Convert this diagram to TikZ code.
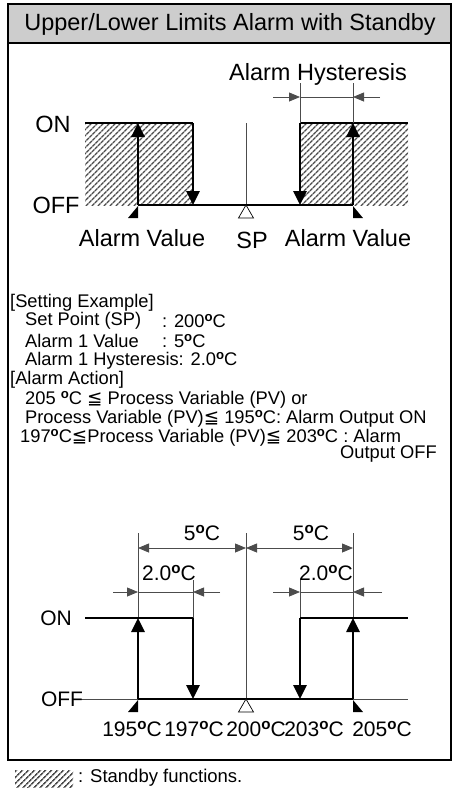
\documentclass[tikz,border=0pt]{standalone}
\usepackage{fontspec}
\setmainfont{Liberation Sans}
\newfontfamily\djv{DejaVu Sans}
\usetikzlibrary{arrows.meta,patterns.meta}
\newcommand\dg{\raisebox{.36em}{\scalebox{.72}{\bfseries o}}}
\newcommand\myleq{\smash{\djv ≦}}
\definecolor{titlegray}{RGB}{205,205,205}
\tikzset{
  hatch/.style={pattern={Lines[angle=45,distance=4pt,line width=1.6pt]},pattern color=black!70},
  bold/.style={line width=2.6pt},
  thin/.style={line width=0.8pt,black!70},
  bigtip/.style={-{Triangle[width=13pt,length=14pt]}},
  dimtip/.style={-{Triangle[width=9pt,length=11pt]}},
  dimboth/.style={{Triangle[width=9pt,length=11pt]}-{Triangle[width=9pt,length=11pt]}},
  lbl/.style={inner sep=0pt,font=\fontsize{23.5}{26}\selectfont},
  slbl/.style={inner sep=0pt,font=\fontsize{21}{24}\selectfont},
  txt/.style={inner sep=0pt,anchor=west,font=\fontsize{18.3}{21}\selectfont},
}
\begin{document}
\begin{tikzpicture}[x=1pt,y=-1pt]
\useasboundingbox (0,0) rectangle (453,801);
% frame and title
\fill[titlegray] (8,4) rectangle (451,43);
\draw[line width=1.6pt] (8,4) rectangle (451,760);
\draw[line width=1.2pt] (8,43) -- (451,43);
\node[lbl] (title) at (230,24) {Upper/Lower Limits Alarm with Standby};

% ===== upper diagram =====
\coordinate (a1) at (85,123);
\coordinate (a2) at (193,123);
\coordinate (a3) at (193,205);
\coordinate (a4) at (138,205);
\coordinate (a5) at (138,123);
\coordinate (b1) at (300,123);
\coordinate (b2) at (408,123);
\coordinate (b3) at (300,205);
\coordinate (b4) at (353,205);
\coordinate (b5) at (353,123);
\fill[hatch] (85,123) rectangle (193,205);
\fill[hatch] (300,123) rectangle (408,205);
\draw[thin] (246,123) -- (246,205);
\draw[bold] (a1) -- (a2);
\draw[bold,bigtip] (a2) -- (a3);
\draw[bold,bigtip] (a4) -- (a5);
\draw[bold] (a4) -- (b4);
\draw[bold] (b1) -- (b2);
\draw[bold,bigtip] (b1) -- (b3);
\draw[bold,bigtip] (b4) -- (b5);
% hysteresis dimension
\coordinate (h1) at (300,83);
\coordinate (h2) at (353,83);
\coordinate (h3) at (273,97);
\coordinate (h4) at (300,97);
\coordinate (h5) at (353,97);
\coordinate (h6) at (380,97);
\draw[thin] (h1) -- (b1);
\draw[thin] (h2) -- (b5);
\draw[thin,dimtip] (h3) -- (h4);
\draw[thin] (h4) -- (h5);
\draw[thin,dimtip] (h6) -- (h5);
% markers
\fill (138,206) -- (138,218) -- (128,218) -- cycle;
\fill (353,206) -- (353,218) -- (363,218) -- cycle;
\draw[line width=0.7pt,fill=white] (246,205) -- (253.5,218) -- (238.5,218) -- cycle;
% labels
\node[lbl] (on1) at (53,124) {ON};
\node[lbl] (off1) at (56,205) {OFF};
\node[lbl] (hys) at (318,74) {Alarm Hysteresis};
\node[lbl] (av1) at (142,238) {Alarm Value};
\node[lbl] (sp) at (252,240) {SP};
\node[lbl] (av2) at (348,238) {Alarm Value};

% ===== text section =====
\node[txt] (t1) at (10,303) {[Setting Example]};
\node[txt] (t2) at (25,321) {Set Point (SP)};
\node[txt] (t2v) at (162,321) {: 200\dg C};
\node[txt] (t3) at (25,341) {Alarm 1 Value};
\node[txt] (t3v) at (162,341) {: 5\dg C};
\node[txt] (t4) at (25,361) {Alarm 1 Hysteresis: 2.0\dg C};
\node[txt] (t5) at (10,380) {[Alarm Action]};
\node[txt] (t6) at (25,400) {205 \dg C \myleq{} Process Variable (PV) or};
\node[txt] (t7) at (25,419) {Process Variable (PV)\myleq{} 195\dg C: Alarm Output ON};
\node[txt] (t8) at (20,438) {197\dg C\myleq Process Variable (PV)\myleq{} 203\dg C : Alarm};
\node[txt] (t9) at (340,454) {Output OFF};

% ===== lower diagram =====
\coordinate (c1) at (85,618);
\coordinate (c2) at (193,618);
\coordinate (c3) at (193,699);
\coordinate (c4) at (138,699);
\coordinate (c5) at (138,618);
\coordinate (d1) at (300,618);
\coordinate (d2) at (408,618);
\coordinate (d3) at (300,699);
\coordinate (d4) at (353,699);
\coordinate (d5) at (353,618);
\coordinate (e0) at (80,699);
\coordinate (e9) at (408,699);
\draw[thin] (e0) -- (c4);
\draw[thin] (d4) -- (e9);
% extension lines
\coordinate (x1) at (138,533);
\coordinate (x2) at (246,533);
\coordinate (x3) at (353,533);
\coordinate (x4) at (193,580);
\coordinate (x5) at (300,580);
\coordinate (sp2) at (246,699);
\draw[thin] (x1) -- (c5);
\draw[thin] (x3) -- (d5);
\draw[thin] (x2) -- (sp2);
\draw[thin] (x4) -- (c2);
\draw[thin] (x5) -- (d1);
% 5 C dimensions
\coordinate (f1) at (138,548);
\coordinate (f2) at (246,548);
\coordinate (f3) at (353,548);
\draw[thin,dimboth] (f1) -- (f2);
\draw[thin,dimboth] (f2) -- (f3);
% 2.0 C dimensions
\coordinate (g1) at (113,592);
\coordinate (g2) at (138,592);
\coordinate (g3) at (193,592);
\coordinate (g4) at (220,592);
\coordinate (g5) at (273,592);
\coordinate (g6) at (300,592);
\coordinate (g7) at (353,592);
\coordinate (g8) at (382,592);
\draw[thin,dimtip] (g1) -- (g2);
\draw[thin] (g2) -- (g3);
\draw[thin,dimtip] (g4) -- (g3);
\draw[thin,dimtip] (g5) -- (g6);
\draw[thin] (g6) -- (g7);
\draw[thin,dimtip] (g8) -- (g7);
% steps
\draw[bold] (c1) -- (c2);
\draw[bold,bigtip] (c2) -- (c3);
\draw[bold,bigtip] (c4) -- (c5);
\draw[bold] (c4) -- (d4);
\draw[bold] (d1) -- (d2);
\draw[bold,bigtip] (d1) -- (d3);
\draw[bold,bigtip] (d4) -- (d5);
% markers
\fill (138,700) -- (138,712) -- (128,712) -- cycle;
\fill (353,700) -- (353,712) -- (363,712) -- cycle;
\draw[line width=0.7pt,fill=white] (246,699) -- (253.5,712) -- (238.5,712) -- cycle;
% labels
\node[slbl] (on2) at (56,618) {ON};
\node[slbl] (off2) at (62,699) {OFF};
\node[slbl] (l5a) at (202,533) {5\dg C};
\node[slbl] (l5b) at (311,533) {5\dg C};
\node[slbl] (l2a) at (169,573) {2.0\dg C};
\node[slbl] (l2b) at (326,573) {2.0\dg C};
\node[slbl] (v195) at (132,729) {195\dg C};
\node[slbl] (v197) at (194,729) {197\dg C};
\node[slbl] (v200) at (256,729) {200\dg C};
\node[slbl] (v203) at (314,729) {203\dg C};
\node[slbl] (v205) at (382,729) {205\dg C};

% legend
\fill[hatch] (15,770) rectangle (73,787);
\node[inner sep=0pt,anchor=west,font=\fontsize{18.5}{21}\selectfont] (leg) at (78,778) {: Standby functions.};
\end{tikzpicture}
\end{document}
